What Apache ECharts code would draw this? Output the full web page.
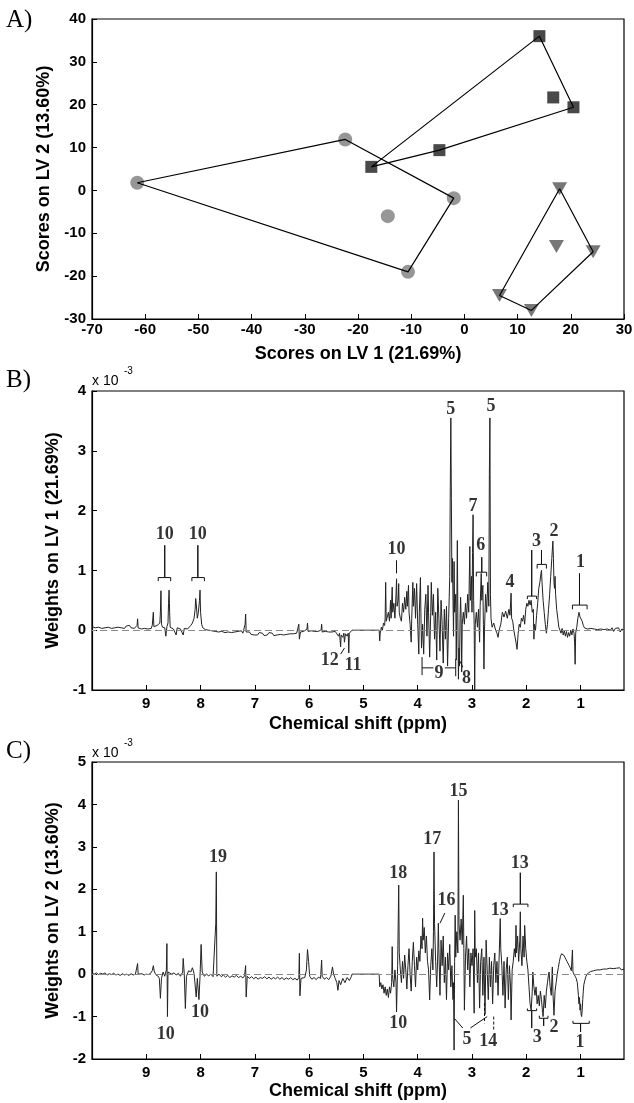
<!DOCTYPE html>
<html><head><meta charset="utf-8">
<script src="https://cdn.jsdelivr.net/npm/echarts@6.0.0/dist/echarts.min.js"></script>
<style>html,body{margin:0;padding:0;background:#fff}#c{width:634px;height:1103px}</style>
</head><body><div id="c"></div>
<script>
// ---------- Panel A: PLS-DA scores ----------
const squares = [[-17.5,5.5],[-4.7,9.4],[14.1,36.0],[16.7,21.7],[20.5,19.4]];
const circles = [[-61.5,1.8],[-22.4,11.9],[-2.0,-1.8],[-14.4,-6.0],[-10.6,-19.0]];
const triangles = [[17.9,0.4],[17.3,-13.1],[24.2,-14.3],[6.6,-24.5],[12.6,-28.0]];
const squareHull = [0,2,4,1,0];
const circleHull = [0,1,2,4,0];
const triangleHull = [0,2,4,3,0];
const ppmTicks = [1,2,3,4,5,6,7,8,9];

// ---------- Panel B: LV1 weights (x 10^-3) ----------
const specB = [[10,0.06],[9.97,0.09],[9.94,0.04],[9.91,0.07],[9.88,0.05],[9.85,0.08],[9.82,0.03],[9.79,0.06],[9.76,0.04],[9.73,0.07],[9.7,0.05],[9.67,0.08],[9.64,0.03],[9.61,0.06],[9.58,0.04],[9.55,0.07],[9.52,0.05],[9.49,0.08],[9.46,0.04],[9.43,0.06],[9.4,0.03],[9.37,0.07],[9.34,0.05],[9.31,0.08],[9.28,0.04],[9.25,0.06],[9.22,0.03],[9.19,0.05],[9.17,0.08],[9.16,0.19],[9.15,0.04],[9.12,0.06],[9.09,0.02],[9.06,0.05],[9.03,0.03],[9.0,0.06],[8.97,0.02],[8.94,0.05],[8.91,0.03],[8.89,0.08],[8.87,0.3],[8.86,0.06],[8.83,0.04],[8.8,0.08],[8.77,0.05],[8.75,0.12],[8.74,0.3],[8.73,0.66],[8.72,0.1],[8.7,0.05],[8.68,0.08],[8.66,0.04],[8.64,-0.1],[8.62,0.06],[8.6,0.12],[8.59,0.45],[8.58,0.67],[8.57,0.3],[8.56,0.05],[8.53,0.07],[8.5,0.02],[8.47,0.05],[8.45,-0.08],[8.43,0.04],[8.4,0.06],[8.37,0.02],[8.34,0.05],[8.32,-0.08],[8.3,0.03],[8.27,0.06],[8.24,0.02],[8.21,0.05],[8.18,0.08],[8.15,0.12],[8.12,0.2],[8.1,0.35],[8.09,0.53],[8.08,0.45],[8.06,0.2],[8.04,0.3],[8.02,0.5],[8.01,0.67],[8.0,0.3],[7.98,0.1],[7.96,0.04],[7.94,0.07],[7.91,0.01],[7.88,0.04],[7.85,0.0],[7.82,0.03],[7.79,-0.01],[7.76,0.02],[7.73,-0.02],[7.7,0.01],[7.67,-0.03],[7.64,0.0],[7.61,-0.02],[7.58,0.01],[7.55,-0.04],[7.52,-0.01],[7.49,-0.03],[7.46,0.0],[7.43,-0.04],[7.4,-0.01],[7.37,-0.03],[7.34,-0.05],[7.31,-0.02],[7.28,-0.04],[7.25,-0.01],[7.22,-0.05],[7.19,-0.02],[7.18,0.1],[7.17,0.27],[7.16,-0.03],[7.13,-0.06],[7.1,-0.03],[7.07,-0.07],[7.04,-0.04],[7.01,-0.08],[6.98,-0.05],[6.95,-0.08],[6.92,-0.04],[6.89,-0.07],[6.86,-0.05],[6.83,-0.09],[6.8,-0.06],[6.77,-0.08],[6.74,-0.04],[6.71,-0.07],[6.68,-0.05],[6.65,-0.09],[6.62,-0.06],[6.59,-0.08],[6.56,-0.05],[6.53,-0.07],[6.5,-0.04],[6.47,-0.08],[6.44,-0.05],[6.41,-0.07],[6.38,-0.04],[6.35,-0.06],[6.32,-0.03],[6.29,-0.06],[6.26,-0.04],[6.23,-0.05],[6.2,-0.02],[6.19,0.1],[6.18,-0.15],[6.16,-0.03],[6.13,-0.05],[6.1,-0.02],[6.07,-0.04],[6.04,0.02],[6.03,0.12],[6.02,-0.02],[5.99,-0.04],[5.96,-0.01],[5.93,-0.04],[5.9,-0.02],[5.87,-0.05],[5.84,-0.02],[5.81,-0.04],[5.78,0.0],[5.77,0.1],[5.76,-0.03],[5.73,-0.05],[5.7,-0.02],[5.67,-0.05],[5.64,-0.03],[5.61,-0.06],[5.58,-0.03],[5.55,-0.05],[5.52,-0.02],[5.49,-0.06],[5.46,-0.1],[5.44,-0.05],[5.42,-0.28],[5.41,-0.08],[5.38,-0.12],[5.36,-0.05],[5.35,-0.2],[5.33,-0.06],[5.3,-0.1],[5.28,-0.05],[5.27,-0.38],[5.26,-0.05],[5.23,-0.03],[5.21,0],[4.71,0],[4.7,-0.18],[4.69,-0.05],[4.67,0.05],[4.65,0.0],[4.63,0.12],[4.61,0.08],[4.6,0.2],[4.59,0.8],[4.58,0.15],[4.56,0.12],[4.54,0.3],[4.52,0.15],[4.5,0.5],[4.49,0.2],[4.47,0.72],[4.46,0.3],[4.44,0.45],[4.42,0.2],[4.4,0.6],[4.39,0.86],[4.38,0.4],[4.36,0.5],[4.35,0.78],[4.34,0.3],[4.32,0.2],[4.3,0.15],[4.28,0.45],[4.26,0.3],[4.24,0.55],[4.22,0.35],[4.2,0.65],[4.19,0.4],[4.17,0.75],[4.16,0.3],[4.14,0.1],[4.12,-0.2],[4.11,0.2],[4.09,0.8],[4.08,0.4],[4.06,0.7],[4.04,0.2],[4.02,0.78],[4.0,0.1],[3.98,-0.4],[3.97,0.3],[3.95,0.88],[3.94,0.2],[3.93,-0.3],[3.91,0.1],[3.89,-0.4],[3.87,0.35],[3.85,0.6],[3.83,-0.1],[3.81,0.75],[3.8,0.3],[3.78,-0.45],[3.76,0.3],[3.75,0.8],[3.73,0.25],[3.71,0.6],[3.69,-0.15],[3.67,0.3],[3.65,-0.5],[3.63,0.7],[3.61,0.2],[3.59,-0.35],[3.57,0.5],[3.55,0.1],[3.53,-0.55],[3.51,0.35],[3.49,-0.15],[3.47,0.4],[3.45,-0.6],[3.43,0.2],[3.41,0.9],[3.4,2.4],[3.39,3.55],[3.38,2.2],[3.37,0.8],[3.36,1.2],[3.35,0.5],[3.34,-0.1],[3.33,1.15],[3.32,0.3],[3.3,0.6],[3.29,-0.5],[3.28,0.3],[3.27,1.5],[3.26,0.2],[3.25,-0.82],[3.24,-0.3],[3.23,-0.6],[3.22,0.2],[3.21,0.55],[3.2,0.2],[3.19,-0.7],[3.18,0.1],[3.16,0.3],[3.14,0.1],[3.12,0.45],[3.1,0.2],[3.08,0.6],[3.06,0.3],[3.04,1.4],[3.03,0.5],[3.01,0.9],[3.0,0.3],[2.99,1.3],[2.98,1.93],[2.97,0.5],[2.96,0.1],[2.95,-1.0],[2.94,0.1],[2.92,0.3],[2.9,0.05],[2.88,0.35],[2.86,-0.2],[2.85,0.4],[2.83,0.95],[2.82,0.5],[2.8,0.75],[2.79,0.1],[2.78,-0.65],[2.77,0.0],[2.75,0.6],[2.73,0.3],[2.71,0.8],[2.69,0.4],[2.68,2.6],[2.67,3.55],[2.66,0.6],[2.65,0.2],[2.63,0.05],[2.6,0.12],[2.57,0.02],[2.54,-0.05],[2.52,-0.12],[2.5,0.0],[2.47,0.1],[2.44,0.3],[2.41,0.22],[2.38,0.32],[2.35,0.2],[2.32,0.35],[2.3,0.25],[2.28,0.62],[2.27,0.2],[2.25,0.15],[2.23,0.0],[2.21,-0.1],[2.19,-0.2],[2.17,-0.32],[2.15,-0.05],[2.13,0.1],[2.11,0.05],[2.09,0.2],[2.07,0.15],[2.05,0.25],[2.03,0.1],[2.01,0.35],[1.99,0.45],[1.97,0.4],[1.95,0.5],[1.93,0.42],[1.91,0.5],[1.89,0.3],[1.87,0.35],[1.86,-0.15],[1.85,0.1],[1.83,0.0],[1.81,0.25],[1.79,0.45],[1.77,0.7],[1.75,0.8],[1.73,0.95],[1.72,1.0],[1.71,0.8],[1.69,0.5],[1.67,0.3],[1.65,0.1],[1.63,-0.05],[1.61,0.1],[1.59,0.35],[1.57,0.6],[1.55,0.9],[1.53,1.2],[1.51,1.49],[1.5,1.2],[1.49,0.8],[1.48,0.7],[1.47,0.9],[1.46,0.6],[1.44,0.35],[1.42,0.2],[1.4,0.05],[1.38,0.0],[1.36,-0.05],[1.34,0.03],[1.32,-0.08],[1.3,0.0],[1.28,-0.1],[1.26,-0.02],[1.24,-0.12],[1.22,-0.04],[1.2,-0.1],[1.18,0.0],[1.16,-0.08],[1.14,0.02],[1.12,-0.05],[1.11,-0.2],[1.1,-0.57],[1.09,-0.05],[1.07,0.05],[1.05,0.2],[1.04,0.25],[1.03,0.3],[1.01,0.22],[0.99,0.25],[0.97,0.15],[0.95,0.08],[0.93,0.04],[0.9,0.06],[0.87,0.02],[0.84,0.05],[0.81,0.03],[0.78,0.06],[0.75,0.02],[0.72,0.05],[0.69,0.01],[0.66,0.04],[0.63,0.02],[0.6,0.05],[0.57,0.01],[0.54,0.04],[0.51,0.02],[0.48,0.05],[0.45,0.0],[0.42,0.04],[0.39,-0.02],[0.36,0.03],[0.33,0.0],[0.3,0.04],[0.27,-0.03],[0.24,0.02],[0.2,0.0]];

// ---------- Panel C: LV2 weights (x 10^-3) ----------
const specC = [[10,0.02],[9.96,0.0],[9.92,0.03],[9.88,-0.01],[9.84,0.02],[9.8,0.0],[9.76,0.03],[9.72,-0.02],[9.68,0.01],[9.64,-0.01],[9.6,0.02],[9.56,-0.02],[9.52,0.0],[9.48,-0.03],[9.44,0.01],[9.4,-0.02],[9.36,0.0],[9.32,-0.03],[9.28,0.01],[9.24,-0.02],[9.2,0.0],[9.17,-0.01],[9.16,0.25],[9.15,0.0],[9.12,-0.02],[9.08,0.01],[9.04,-0.02],[9.0,0.0],[8.96,-0.01],[8.92,0.02],[8.89,0.08],[8.87,0.2],[8.85,0.05],[8.82,-0.02],[8.78,-0.05],[8.76,-0.1],[8.74,-0.57],[8.72,-0.1],[8.69,0.05],[8.66,-0.05],[8.63,0.1],[8.62,0.72],[8.61,-1.0],[8.6,0.05],[8.57,0.08],[8.53,0.0],[8.49,0.03],[8.45,-0.02],[8.41,0.02],[8.37,-0.05],[8.33,0.05],[8.32,0.37],[8.3,0.0],[8.28,-0.81],[8.26,-0.05],[8.22,0.08],[8.18,0.05],[8.15,0.15],[8.12,0.02],[8.08,-0.54],[8.06,-0.1],[8.03,-0.6],[8.01,-0.05],[7.99,0.7],[7.97,0.05],[7.93,-0.05],[7.89,0.0],[7.85,-0.04],[7.81,0.0],[7.77,-0.06],[7.74,-0.02],[7.72,1.2],[7.71,2.41],[7.7,-0.05],[7.66,0.0],[7.62,-0.06],[7.58,-0.02],[7.54,-0.07],[7.5,-0.03],[7.46,-0.08],[7.42,-0.04],[7.38,-0.07],[7.34,-0.03],[7.3,-0.08],[7.26,-0.05],[7.22,-0.09],[7.19,-0.04],[7.17,0.2],[7.16,-0.54],[7.14,-0.05],[7.1,-0.1],[7.06,-0.06],[7.02,-0.11],[6.98,-0.07],[6.94,-0.12],[6.9,-0.08],[6.86,-0.1],[6.82,-0.06],[6.78,-0.11],[6.74,-0.07],[6.7,-0.12],[6.66,-0.08],[6.62,-0.11],[6.58,-0.07],[6.54,-0.12],[6.5,-0.08],[6.46,-0.13],[6.42,-0.09],[6.38,-0.12],[6.34,-0.08],[6.3,-0.13],[6.26,-0.1],[6.22,-0.14],[6.19,-0.08],[6.18,0.49],[6.17,-0.51],[6.15,-0.1],[6.12,-0.13],[6.08,-0.08],[6.05,0.1],[6.03,0.58],[6.01,0.3],[5.99,-0.05],[5.95,-0.12],[5.91,-0.08],[5.87,-0.13],[5.83,-0.07],[5.79,-0.1],[5.77,0.33],[5.76,-0.05],[5.72,-0.12],[5.68,-0.08],[5.64,-0.13],[5.6,-0.05],[5.57,0.17],[5.55,0.0],[5.52,-0.1],[5.49,-0.2],[5.47,-0.38],[5.45,-0.15],[5.42,-0.25],[5.38,-0.1],[5.34,-0.2],[5.3,-0.08],[5.26,-0.15],[5.22,-0.05],[5.21,0],[4.71,0],[4.7,-0.3],[4.68,-0.2],[4.66,-0.35],[4.64,-0.25],[4.62,-0.45],[4.6,-0.3],[4.58,-0.5],[4.56,-0.35],[4.54,-0.55],[4.52,-0.3],[4.5,-0.45],[4.48,-0.2],[4.47,0.65],[4.46,-0.1],[4.44,-0.3],[4.42,0.1],[4.4,-0.2],[4.39,-0.89],[4.37,0.2],[4.35,2.1],[4.34,0.5],[4.32,0.1],[4.3,-0.2],[4.28,0.3],[4.26,-0.1],[4.24,0.45],[4.22,0.1],[4.2,-0.35],[4.18,0.2],[4.16,0.6],[4.14,0.0],[4.12,-0.4],[4.1,0.3],[4.08,0.75],[4.06,0.2],[4.04,-0.3],[4.02,0.4],[4.0,0.1],[3.98,0.55],[3.96,0.3],[3.94,0.9],[3.92,0.6],[3.91,1.32],[3.9,0.8],[3.88,1.1],[3.86,0.5],[3.84,0.9],[3.82,0.3],[3.8,0.1],[3.78,-0.61],[3.76,0.2],[3.74,0.6],[3.72,0.1],[3.71,1.0],[3.7,2.88],[3.69,1.2],[3.67,0.3],[3.65,-0.3],[3.63,0.5],[3.62,1.2],[3.61,0.6],[3.59,-0.5],[3.57,0.8],[3.55,0.2],[3.53,0.9],[3.51,-0.2],[3.49,0.4],[3.47,-0.6],[3.45,0.5],[3.43,0.1],[3.41,0.7],[3.39,-0.3],[3.37,0.2],[3.35,-0.6],[3.34,-0.2],[3.33,-1.79],[3.32,0.3],[3.31,1.39],[3.3,0.4],[3.28,1.0],[3.26,0.5],[3.25,4.1],[3.24,1.2],[3.22,0.8],[3.2,1.3],[3.18,0.7],[3.16,1.86],[3.15,0.6],[3.14,-0.85],[3.12,0.4],[3.1,0.9],[3.08,0.1],[3.06,0.6],[3.04,-0.3],[3.02,0.5],[3.0,0.2],[2.98,0.6],[2.96,-0.92],[2.95,1.5],[2.94,0.4],[2.92,0.6],[2.9,-0.2],[2.88,0.5],[2.86,-0.8],[2.84,0.3],[2.82,0.6],[2.8,-0.5],[2.78,0.4],[2.76,-0.95],[2.74,0.8],[2.72,0.1],[2.7,-0.6],[2.68,0.4],[2.66,-0.3],[2.64,0.3],[2.62,-0.7],[2.6,0.2],[2.58,0.5],[2.56,-0.2],[2.54,0.3],[2.52,-0.5],[2.5,0.4],[2.48,1.31],[2.47,0.6],[2.45,0.2],[2.43,-0.5],[2.41,0.3],[2.39,-0.8],[2.37,0.1],[2.35,0.4],[2.33,-0.6],[2.31,0.2],[2.29,-0.3],[2.28,-1.08],[2.26,0.1],[2.24,0.3],[2.22,0.6],[2.2,0.4],[2.19,1.15],[2.18,0.5],[2.16,0.9],[2.14,0.3],[2.12,0.8],[2.11,1.47],[2.1,0.6],[2.08,0.2],[2.06,0.9],[2.04,0.4],[2.03,1.15],[2.01,0.6],[1.99,0.3],[1.97,0.1],[1.95,-0.3],[1.93,-0.7],[1.91,-0.85],[1.89,-0.4],[1.88,0.05],[1.86,-0.3],[1.84,-0.5],[1.82,-0.3],[1.8,-0.7],[1.78,-0.5],[1.76,-0.75],[1.74,-0.4],[1.72,-0.6],[1.7,-0.9],[1.69,-1.0],[1.67,-0.5],[1.65,-0.8],[1.63,-0.4],[1.61,-0.2],[1.59,0.0],[1.58,0.05],[1.56,-0.3],[1.54,-0.5],[1.52,0.17],[1.51,-0.4],[1.49,-0.97],[1.47,-0.4],[1.45,-0.2],[1.43,0.0],[1.41,0.15],[1.39,0.3],[1.37,0.42],[1.35,0.48],[1.33,0.5],[1.31,0.45],[1.29,0.4],[1.27,0.35],[1.25,0.3],[1.23,0.26],[1.21,0.2],[1.19,0.15],[1.17,0.08],[1.16,0.05],[1.15,0.57],[1.14,0.05],[1.12,0.0],[1.1,-0.05],[1.08,-0.1],[1.06,-0.2],[1.04,-0.5],[1.03,-0.7],[1.02,-0.55],[1.01,-0.85],[1.0,-0.7],[0.99,-0.95],[0.98,-1.0],[0.97,-0.85],[0.96,-0.6],[0.95,-0.4],[0.94,-0.25],[0.92,-0.14],[0.9,-0.05],[0.88,0.0],[0.85,0.04],[0.82,0.06],[0.79,0.03],[0.76,0.08],[0.73,0.05],[0.7,0.1],[0.67,0.06],[0.64,0.1],[0.61,0.07],[0.58,0.12],[0.55,0.08],[0.52,0.12],[0.49,0.09],[0.46,0.14],[0.43,0.1],[0.4,0.13],[0.37,0.09],[0.34,0.14],[0.31,0.11],[0.28,0.15],[0.25,0.1],[0.22,0.14],[0.2,0.12]];

// ---------- Annotations (data coordinates: ppm, weight x 10^-3) ----------
const labelsB = [[8.66,1.6,'10'],[8.05,1.6,'10'],[4.39,1.36,'10'],[3.39,3.7,'5'],[2.65,3.74,'5'],[2.98,2.07,'7'],[2.84,1.42,'6'],[2.3,0.8,'4'],[1.81,1.49,'3'],[1.49,1.66,'2'],[1.0,1.14,'1'],[5.62,-0.5,'12'],[5.19,-0.58,'11'],[3.61,-0.72,'9'],[3.1,-0.8,'8']];
const bracketsB = [
  [[8.78,0.82],[8.78,0.88],[8.66,0.88],[8.66,1.42],[8.66,0.88],[8.55,0.88],[8.55,0.82]],
  [[8.16,0.82],[8.16,0.88],[8.05,0.88],[8.05,1.42],[8.05,0.88],[7.93,0.88],[7.93,0.82]],
  [[4.39,0.95],[4.39,1.17]],
  [[2.92,0.9],[2.92,0.97],[2.82,0.97],[2.82,1.22],[2.82,0.97],[2.73,0.97],[2.73,0.9]],
  [[1.98,0.52],[1.98,0.57],[1.9,0.57],[1.9,1.34],[1.9,0.57],[1.81,0.57],[1.81,0.52]],
  [[1.8,1.03],[1.8,1.1],[1.72,1.1],[1.72,1.34],[1.72,1.1],[1.63,1.1],[1.63,1.03]],
  [[1.15,0.35],[1.15,0.42],[1.02,0.42],[1.02,0.95],[1.02,0.42],[0.88,0.42],[0.88,0.35]],
  [[5.42,-0.4],[5.35,-0.3]],
  [[3.92,-0.45],[3.92,-0.75]],[[3.92,-0.63],[3.71,-0.63]],[[3.5,-0.63],[3.3,-0.63]],[[3.3,-0.48],[3.3,-0.77]],
  [[3.22,-0.52],[3.17,-0.62]]
];
const labelsC = [[7.68,2.76,'19'],[8.64,-1.41,'10'],[8.01,-0.9,'10'],[4.36,2.37,'18'],[4.36,-1.16,'10'],[3.73,3.17,'17'],[3.47,1.73,'16'],[3.25,4.31,'15'],[3.09,-1.54,'5'],[2.7,-1.59,'14'],[2.49,1.51,'13'],[2.12,2.61,'13'],[1.8,-1.49,'3'],[1.49,-1.26,'2'],[1.01,-1.6,'1']];
const bracketsC = [
  [[3.59,1.2],[3.5,1.44]],
  [[3.32,-1.05],[3.17,-1.27]],[[3.03,-1.27],[2.72,-1.0]],
  [[2.24,1.58],[2.24,1.65],[2.11,1.65],[2.11,2.39],[2.11,1.65],[1.97,1.65],[1.97,1.58]],
  [[1.98,-0.81],[1.98,-0.86],[1.9,-0.86],[1.9,-1.27],[1.9,-0.86],[1.81,-0.86],[1.81,-0.81]],
  [[1.76,-0.98],[1.76,-1.04],[1.68,-1.04],[1.68,-1.22],[1.68,-1.04],[1.6,-1.04],[1.6,-0.98]],
  [[1.14,-1.1],[1.14,-1.16],[1.0,-1.16],[1.0,-1.36],[1.0,-1.16],[0.84,-1.16],[0.84,-1.1]]
];
const dashedC = [[[2.77,-0.68],[2.77,-1.16]],[[2.6,-1.0],[2.6,-1.32]]];

const SANS = '"Liberation Sans", Arial, sans-serif';
const SERIF = '"Liberation Serif", "Times New Roman", serif';

const chart = echarts.init(document.getElementById('c'), null, {renderer: 'canvas'});

function gridCfg(top, height) {
  return {left: 92, top: top, width: 532, height: height, show: true, borderColor: '#000', borderWidth: 1.2,
          backgroundColor: 'rgba(0,0,0,0)', containLabel: false, outerBoundsMode: 'none'};
}
const lab = {color: '#000', fontFamily: SANS, fontWeight: 'bold', fontSize: 15};
const nameStyle = {color: '#000', fontFamily: SANS, fontWeight: 'bold', fontSize: 18};
const axLine = {show: true, onZero: false, lineStyle: {color: '#000', width: 1.2}};
const tick = {show: true, inside: true, length: 5, lineStyle: {color: '#000', width: 1}};

function ppmAxis(gi, gap) {
  return {gridIndex: gi, type: 'value', min: 0.2, max: 10, inverse: true,
    axisLine: axLine, splitLine: {show: false},
    axisTick: Object.assign({}, tick, {customValues: ppmTicks}),
    axisLabel: Object.assign({}, lab, {customValues: ppmTicks, margin: 6}),
    name: 'Chemical shift (ppm)', nameLocation: 'middle', nameGap: gap, nameTextStyle: nameStyle};
}
function valAxis(gi, min, max, name, gap) {
  return {gridIndex: gi, type: 'value', min: min, max: max, interval: gi === 0 ? 10 : 1,
    axisLine: axLine, splitLine: {show: false}, axisTick: tick,
    axisLabel: Object.assign({}, lab, {margin: 6}),
    name: name, nameLocation: 'middle', nameGap: gap, nameTextStyle: nameStyle};
}

function hullLine(points, order) { return order.map(i => points[i]); }

function labelSeries(xi, data) {
  return {type: 'scatter', xAxisIndex: xi, yAxisIndex: xi, data: data, symbolSize: 1, silent: true,
    itemStyle: {color: 'rgba(0,0,0,0)'}, z: 10,
    label: {show: true, position: 'inside', formatter: p => p.data[2], color: '#000',
      fontFamily: SERIF, fontWeight: 'bold', fontSize: 18}};
}
function bracketSeries(xi, polys, dashed) {
  return {type: 'lines', coordinateSystem: 'cartesian2d', xAxisIndex: xi, yAxisIndex: xi, polyline: true, silent: true,
    data: polys.map(c => ({coords: c})),
    lineStyle: {color: '#111', width: 1, opacity: 1, type: dashed ? [3, 2] : 'solid'}, z: 9};
}
function specSeries(xi, data) {
  return {type: 'line', xAxisIndex: xi, yAxisIndex: xi, data: data, showSymbol: false, symbol: 'none',
    sampling: 'none', silent: true, lineStyle: {color: '#222', width: 1}, z: 3,
    markLine: {silent: true, symbol: ['none', 'none'], label: {show: false}, animation: false,
      lineStyle: {color: '#8a8a8a', type: [7, 4], width: 1}, data: [{yAxis: 0}]}};
}

const option = {
  animation: false,
  backgroundColor: '#fff',
  grid: [gridCfg(19, 300), gridCfg(391, 299), gridCfg(762, 297)],
  xAxis: [
    {gridIndex: 0, type: 'value', min: -70, max: 30, interval: 10, axisLine: axLine, splitLine: {show: false},
     axisTick: tick, axisLabel: Object.assign({}, lab, {margin: 3}),
     name: 'Scores on LV 1 (21.69%)', nameLocation: 'middle', nameGap: 26, nameTextStyle: nameStyle},
    ppmAxis(1, 25), ppmAxis(2, 23)
  ],
  yAxis: [
    valAxis(0, -30, 40, 'Scores on LV 2 (13.60%)', 30),
    valAxis(1, -1, 4, 'Weights on LV 1 (21.69%)', 25),
    valAxis(2, -2, 5, 'Weights on LV 2 (13.60%)', 25)
  ],
  series: [
    {type: 'scatter', xAxisIndex: 0, yAxisIndex: 0, data: squares, symbol: 'rect', symbolSize: 12,
     itemStyle: {color: '#1c1c1c'}, z: 2},
    {type: 'scatter', xAxisIndex: 0, yAxisIndex: 0, data: circles, symbol: 'circle', symbolSize: 14,
     itemStyle: {color: '#7c7c7c'}, z: 2},
    {type: 'scatter', xAxisIndex: 0, yAxisIndex: 0, data: triangles, symbol: 'triangle', symbolRotate: 180, symbolSize: [15, 13],
     itemStyle: {color: '#555'}, z: 2},
    {type: 'line', xAxisIndex: 0, yAxisIndex: 0, data: hullLine(squares, squareHull), symbol: 'none',
     lineStyle: {color: '#000', width: 1.2}, z: 3},
    {type: 'line', xAxisIndex: 0, yAxisIndex: 0, data: hullLine(circles, circleHull), symbol: 'none',
     lineStyle: {color: '#000', width: 1.2}, z: 3},
    {type: 'line', xAxisIndex: 0, yAxisIndex: 0, data: hullLine(triangles, triangleHull), symbol: 'none',
     lineStyle: {color: '#000', width: 1.2}, z: 3},
    specSeries(1, specB),
    specSeries(2, specC),
    labelSeries(1, labelsB),
    labelSeries(2, labelsC),
    bracketSeries(1, bracketsB, false),
    bracketSeries(2, bracketsC, false),
    bracketSeries(2, dashedC, true)
  ],
  graphic: [
    {type: 'text', left: 6, top: 8, style: {text: 'A)', font: '25px ' + SERIF, fill: '#000'}},
    {type: 'text', left: 6, top: 368, style: {text: 'B)', font: '25px ' + SERIF, fill: '#000'}},
    {type: 'text', left: 6, top: 739, style: {text: 'C)', font: '25px ' + SERIF, fill: '#000'}},
    {type: 'text', left: 92, top: 374, style: {text: 'x 10', font: '14px ' + SANS, fill: '#000'}},
    {type: 'text', left: 124, top: 366, style: {text: '-3', font: '10px ' + SANS, fill: '#000'}},
    {type: 'text', left: 92, top: 746, style: {text: 'x 10', font: '14px ' + SANS, fill: '#000'}},
    {type: 'text', left: 124, top: 738, style: {text: '-3', font: '10px ' + SANS, fill: '#000'}}
  ]
};
chart.setOption(option);
</script></body></html>
